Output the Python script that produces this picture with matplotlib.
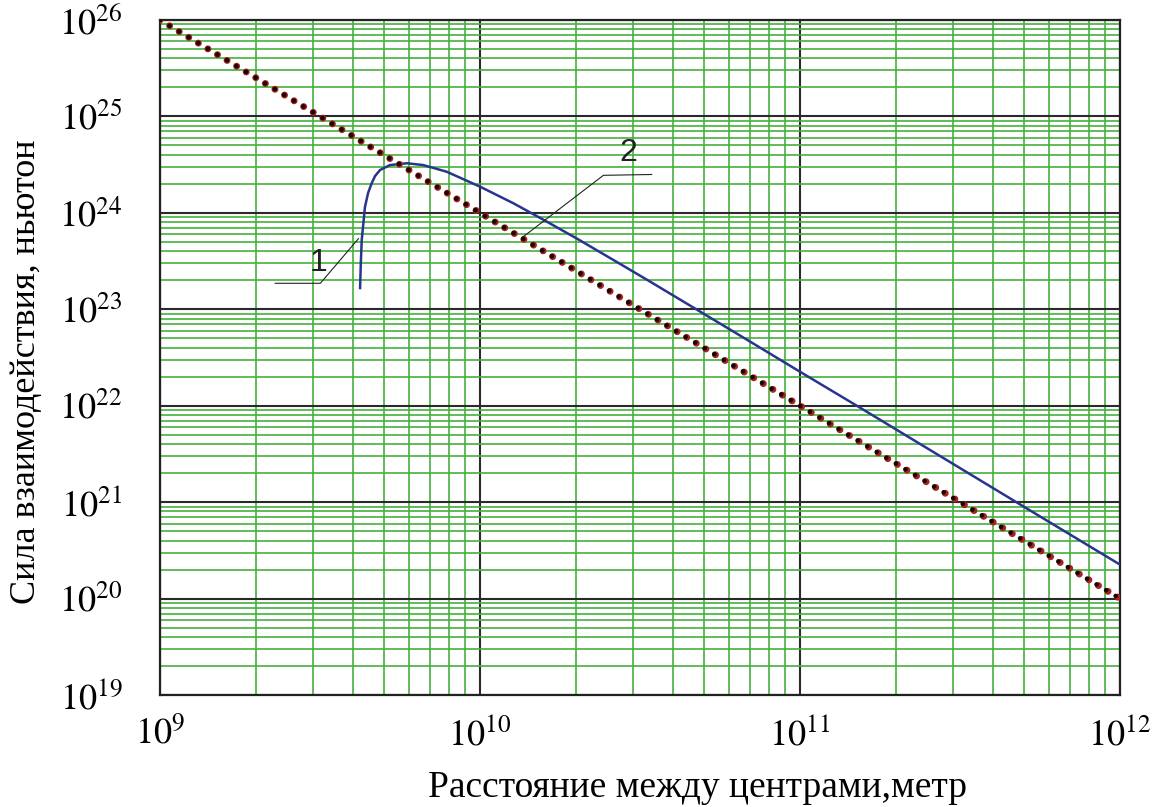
import matplotlib
matplotlib.use("Agg")
import matplotlib.pyplot as plt
from matplotlib.ticker import LogLocator, FixedLocator
import numpy as np

plt.rcParams['font.family'] = ['Liberation Serif', 'DejaVu Serif']
plt.rcParams['mathtext.fontset'] = 'stix'

# кривая 1 (синяя)
dist_1 = [4.22e9, 4.24e9, 4.27e9, 4.37e9, 4.47e9, 4.59e9, 4.70e9, 4.87e9,
          5.23e9, 5.91e9, 6.65e9, 7.87e9, 1.0e10, 1.27e10, 1.58e10, 2.01e10,
          2.61e10, 3.32e10, 4.87e10, 6.81e10, 1.0e11, 1.49e11, 2.94e11,
          4.87e11, 1.0e12]
force_1 = [1.66e23, 2.9e23, 5.24e23, 1.15e24, 1.61e24, 2.04e24, 2.41e24,
           2.78e24, 3.13e24, 3.27e24, 3.13e24, 2.67e24, 1.87e24, 1.26e24,
           8.47e23, 5.40e23, 3.25e23, 2.03e23, 9.48e22, 4.86e22, 2.25e22,
           1.02e22, 2.61e21, 9.48e20, 2.25e20]

# кривая 2 (точечная)
dist_2 = [1e9, 1e10, 1e11, 1e12]
force_2 = [1e26, 1e24, 1e22, 1e20]

x_ticks = [1e9, 1e10, 1e11, 1e12]
y_ticks = [1e19, 1e20, 1e21, 1e22, 1e23, 1e24, 1e25, 1e26]

# выноски
lead_1_x = [2.29e9, 3.17e9, 4.17e9]
lead_1_y = [1.86e23, 1.86e23, 5.4e23]
lead_2_x = [3.44e10, 2.43e10, 1.35e10]
lead_2_y = [2.5e24, 2.45e24, 5.5e23]

fig = plt.figure(figsize=(11.59, 8.07), dpi=100)
ax = fig.add_axes([160/1159, 1 - 695/807, 960/1159, 675/807])
ax.set_xscale('log')
ax.set_yscale('log')
ax.set_xlim(1e9, 1e12)
ax.set_ylim(1e19, 1e26)

ax.xaxis.set_major_locator(FixedLocator(x_ticks))
ax.yaxis.set_major_locator(FixedLocator(y_ticks))
ax.xaxis.set_minor_locator(LogLocator(base=10, subs=np.arange(2, 10), numticks=100))
ax.yaxis.set_minor_locator(LogLocator(base=10, subs=np.arange(2, 10), numticks=100))
ax.set_xticklabels([r'$10^{%d}$' % int(np.log10(v)) for v in x_ticks])
ax.set_yticklabels([r'$10^{%d}$' % int(np.log10(v)) for v in y_ticks])
ax.xaxis.set_minor_formatter(plt.NullFormatter())
ax.yaxis.set_minor_formatter(plt.NullFormatter())

ax.grid(which='minor', color='#46b03c', lw=1.2)
ax.grid(which='major', color='#2a2a2a', lw=1.5)
ax.set_axisbelow(True)
ax.tick_params(which='both', length=0)
ax.tick_params(axis='x', labelsize=26, pad=16)
ax.tick_params(axis='y', labelsize=26, pad=27)
for s in ax.spines.values():
    s.set_linewidth(1.6)
    s.set_color('#222222')

ax.plot(dist_1, force_1, color='#28348f', lw=1.8, zorder=3)
ax.plot(dist_2, force_2, color='#a82222', lw=5, ls=(0, (0.01, 8/5)),
        dash_capstyle='round', zorder=4)
ax.plot(dist_2, force_2, color='#1a0505', lw=3.4, ls=(0, (0.01, 8/3.4)),
        dash_capstyle='round', zorder=5)

ax.plot(lead_1_x, lead_1_y, color='#222222', lw=0.8, zorder=6)
ax.plot(lead_2_x, lead_2_y, color='#222222', lw=0.8, zorder=6)
ax.text(3.13e9, 3.0e23, '1', family='Liberation Sans', fontsize=23,
        ha='center', va='center', color='#222222', zorder=7)
ax.text(2.91e10, 4.2e24, '2', family='Liberation Sans', fontsize=23,
        ha='center', va='center', color='#222222', zorder=7)

ax.set_xlabel('Расстояние между центрами,метр', fontsize=27)
ax.set_ylabel('Сила взаимодействия, ньютон', fontsize=26)
ax.xaxis.label.set_va('baseline')
ax.xaxis.set_label_coords(0.56, -0.151)
ax.yaxis.set_label_coords(-0.122, 0.479)

fig.savefig('out.png', dpi=100)
